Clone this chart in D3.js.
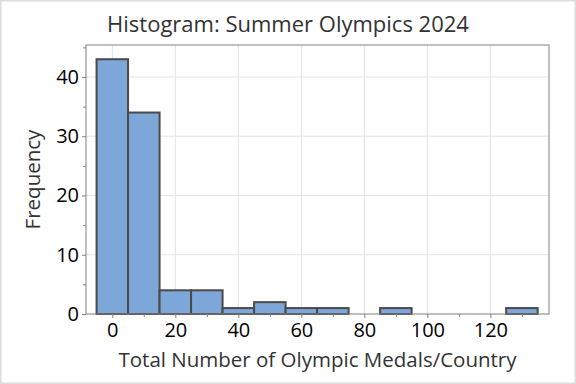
<!DOCTYPE html>
<html>
<head>
<meta charset="utf-8">
<script src="https://cdn.jsdelivr.net/npm/d3@7"></script>
<style>
  body { margin: 0; background: #fff; }
  svg { display: block; }
</style>
</head>
<body>
<script>
// bin midpoints (width 10) and counts
var binMids = [0, 10, 20, 30, 40, 50, 60, 70, 80, 90, 100, 110, 120, 130]
var counts = [43, 34, 4, 4, 1, 2, 1, 1, 0, 1, 0, 0, 0, 1]
var binWidth = 10
var xTicks = [0, 20, 40, 60, 80, 100, 120]
var xMinor = [10, 30, 50, 70, 90, 110, 130]
var yTicks = [0, 10, 20, 30, 40]
var yMinor = [5, 15, 25, 35, 45]

var width = 576, height = 384
var margin = {top: 45, right: 27, bottom: 70, left: 86}

var font = "'Open Sans', 'Noto Sans', sans-serif"

var x = d3.scaleLinear()
    .domain([-8.35, 138.6])
    .range([margin.left, width - margin.right])

var y = d3.scaleLinear()
    .domain([0, 45.4])
    .range([height - margin.bottom, margin.top])

var svg = d3.select('body').append('svg')
    .attr('width', width)
    .attr('height', height)
    .attr('viewBox', [0, 0, width, height])

// light outer border of the picture
svg.append('rect')
    .attr('x', 0.5).attr('y', 0.5)
    .attr('width', width - 1).attr('height', height - 1)
    .attr('fill', '#fff')
    .attr('stroke', '#dcdcdc')
    .attr('stroke-width', 2)

// grid
svg.append('g')
    .selectAll('line')
    .data(xTicks)
    .join('line')
    .attr('x1', d => x(d)).attr('x2', d => x(d))
    .attr('y1', margin.top).attr('y2', height - margin.bottom)
    .attr('stroke', '#e3e3e3')

svg.append('g')
    .selectAll('line')
    .data(yTicks.slice(1))
    .join('line')
    .attr('x1', margin.left).attr('x2', width - margin.right)
    .attr('y1', d => y(d)).attr('y2', d => y(d))
    .attr('stroke', '#e3e3e3')

// bars
svg.append('g')
    .selectAll('rect')
    .data(binMids.map((m, i) => ({mid: m, n: counts[i]})).filter(d => d.n > 0))
    .join('rect')
    .attr('x', d => x(d.mid - binWidth / 2))
    .attr('width', d => x(d.mid + binWidth / 2) - x(d.mid - binWidth / 2))
    .attr('y', d => y(d.n))
    .attr('height', d => y(0) - y(d.n))
    .attr('fill', '#7da7d9')
    .attr('stroke', '#4a4a4a')
    .attr('stroke-width', 2)

// frame
svg.append('rect')
    .attr('x', margin.left).attr('y', margin.top)
    .attr('width', width - margin.right - margin.left)
    .attr('height', height - margin.bottom - margin.top)
    .attr('fill', 'none')
    .attr('stroke', '#808080')
    .attr('stroke-width', 1)

// axes
var xAxis = svg.append('g')
    .attr('transform', 'translate(0,' + (height - margin.bottom) + ')')
    .call(d3.axisBottom(x).tickValues(xTicks).tickSize(4).tickPadding(5))
xAxis.append('g')
    .call(d3.axisBottom(x).tickValues(xMinor).tickSize(3).tickFormat(''))
    .call(g => g.select('.domain').remove())

var yAxis = svg.append('g')
    .attr('transform', 'translate(' + margin.left + ',0)')
    .call(d3.axisLeft(y).tickValues(yTicks).tickSize(4).tickPadding(3))
yAxis.append('g')
    .call(d3.axisLeft(y).tickValues(yMinor).tickSize(3).tickFormat(''))
    .call(g => g.select('.domain').remove())

svg.selectAll('.domain').remove()
svg.selectAll('.tick line').attr('stroke', '#808080')
svg.selectAll('.tick text')
    .style('font-family', font)
    .style('font-size', '20px')
    .style('font-weight', 500)
    .attr('fill', '#000')

// labels
svg.append('text')
    .attr('x', width / 2)
    .attr('y', 31.5)
    .attr('text-anchor', 'middle')
    .style('font-family', font)
    .style('font-size', '22px')
    .style('font-weight', 500)
    .attr('fill', '#333')
    .text('Histogram: Summer Olympics 2024')

svg.append('text')
    .attr('x', (margin.left + width - margin.right) / 2)
    .attr('y', 366.5)
    .attr('text-anchor', 'middle')
    .style('font-family', font)
    .style('font-size', '20.5px')
    .style('font-weight', 500)
    .attr('fill', '#333')
    .text('Total Number of Olympic Medals/Country')

svg.append('text')
    .attr('transform', 'translate(40,' + ((margin.top + height - margin.bottom) / 2) + ') rotate(-90)')
    .attr('text-anchor', 'middle')
    .style('font-family', font)
    .style('font-size', '20.5px')
    .style('font-weight', 500)
    .attr('fill', '#333')
    .text('Frequency')
</script>
</body>
</html>
